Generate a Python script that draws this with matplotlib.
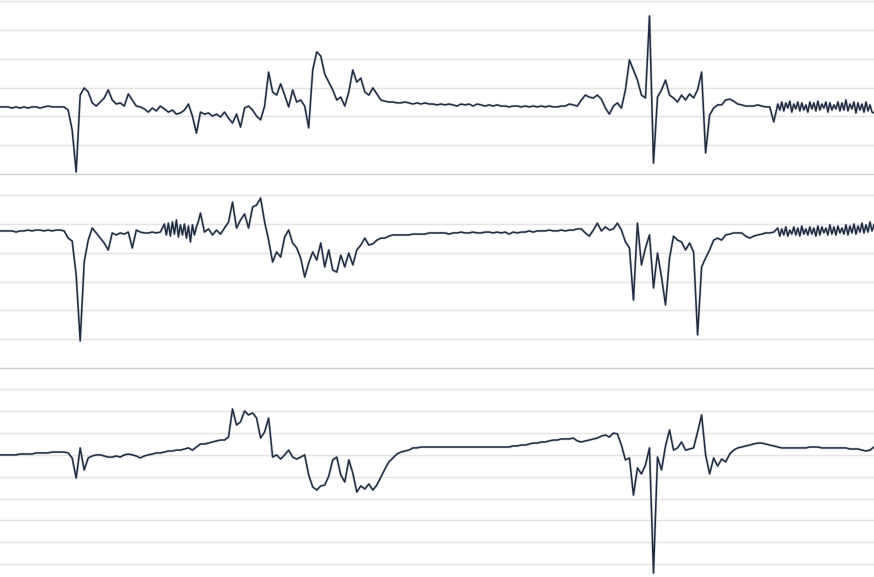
import numpy as np
import matplotlib
matplotlib.use("Agg")
import matplotlib.pyplot as plt

# Three stacked signal panels (one sample per ~4 px)
top_vals = [
    2.33, 2.33, 2.33, 2.29, 2.33, 2.29, 2.33, 2.29, 2.33, 2.33, 2.29, 2.33, 2.36, 2.33, 2.33, 2.33, 2.33,
    2.22, 1.53, 0.07, 2.74, 2.99, 2.85, 2.47, 2.36, 2.50, 2.64, 2.92, 2.57, 2.43, 2.47, 2.36,
    2.78, 2.57, 2.36, 2.33, 2.26, 2.15, 2.29, 2.19, 2.36, 2.26, 2.15, 2.22, 2.08, 2.12, 2.22,
    2.43, 2.01, 1.42, 2.15, 2.08, 2.12, 2.01, 2.08, 1.98, 2.15, 1.94, 1.77, 2.08, 1.63, 2.29,
    2.36, 2.22, 2.01, 1.88, 2.36, 3.54, 2.85, 2.74, 3.13, 2.74, 2.33, 2.92, 2.50, 2.57, 2.36,
    1.60, 3.61, 4.24, 4.10, 3.47, 3.19, 2.92, 2.57, 2.67, 2.36, 2.85, 3.61, 3.19, 3.33, 2.85,
    2.74, 2.99, 2.78, 2.57, 2.53, 2.50, 2.50, 2.47, 2.47, 2.50, 2.47, 2.43, 2.47, 2.43, 2.47,
    2.43, 2.43, 2.40, 2.43, 2.40, 2.43, 2.40, 2.36, 2.43, 2.40, 2.43, 2.36, 2.43, 2.40, 2.36,
    2.40, 2.36, 2.40, 2.36, 2.36, 2.33, 2.36, 2.36, 2.33, 2.36, 2.33, 2.36, 2.33, 2.36, 2.33,
    2.36, 2.33, 2.33, 2.36, 2.36, 2.43, 2.40, 2.36, 2.57, 2.74, 2.67, 2.64, 2.74, 2.60, 2.29,
    2.08, 2.36, 2.47, 2.29, 2.92, 3.96, 3.61, 3.26, 2.74, 2.64, 5.49, 0.38, 2.67, 2.92, 3.26,
    2.74, 2.64, 2.50, 2.74, 2.57, 2.78, 2.64, 2.92, 3.54, 0.73, 2.05, 2.29, 2.40, 2.40, 2.57,
    2.60, 2.53, 2.43, 2.40, 2.36, 2.36, 2.36, 2.40, 2.36, 2.33, 2.33, 1.81, 2.43, 2.22, 2.50,
    2.19, 2.47, 2.22, 2.50, 2.26, 2.47, 2.22, 2.50, 2.26, 2.43, 2.22, 2.47, 2.29, 2.50, 2.22,
    2.47, 2.26, 2.43, 2.19, 2.47, 2.22, 2.12,
]
# noisy stretch at the right end, read at twice the density (from sample 194)
top_band = [
    2.43, 2.22, 2.50, 2.19, 2.47, 2.29, 2.53, 2.15, 2.43, 2.26, 2.50, 2.19, 2.47, 2.22, 2.40, 2.15,
    2.50, 2.26, 2.47, 2.19, 2.53, 2.22, 2.43, 2.29, 2.50, 2.15, 2.47, 2.22, 2.40, 2.26, 2.50, 2.19,
    2.47, 2.22, 2.57, 2.19, 2.43, 2.26, 2.50, 2.12, 2.47, 2.22, 2.43, 2.15, 2.50, 2.19, 2.40, 2.15,
    2.12,
]

mid_vals = [
    4.76, 4.76, 4.76, 4.76, 4.72, 4.76, 4.76, 4.79, 4.76, 4.79, 4.79, 4.76, 4.79, 4.76, 4.79, 4.79, 4.76,
    4.51, 4.41, 3.23, 0.94, 3.68, 4.44, 4.86, 4.69, 4.51, 4.34, 4.10, 4.69, 4.62, 4.69, 4.65,
    4.72, 4.17, 4.79, 4.72, 4.69, 4.69, 4.72, 4.69, 4.72, 5.00, 4.58, 5.07, 4.65, 4.97, 4.55,
    4.93, 4.38, 4.86, 5.38, 4.72, 4.83, 4.62, 4.79, 4.65, 4.86, 5.07, 5.76, 4.86, 5.14, 5.35,
    4.86, 5.59, 5.66, 5.90, 5.07, 4.44, 3.68, 4.03, 3.85, 4.55, 4.79, 4.34, 4.17, 3.82, 3.16,
    3.65, 4.03, 3.75, 4.34, 3.51, 4.10, 3.40, 3.33, 3.92, 3.51, 3.99, 3.58, 4.10, 4.27, 4.51,
    4.27, 4.31, 4.44, 4.51, 4.51, 4.58, 4.62, 4.62, 4.62, 4.62, 4.62, 4.65, 4.65, 4.65, 4.65,
    4.69, 4.69, 4.69, 4.69, 4.69, 4.65, 4.69, 4.69, 4.72, 4.69, 4.69, 4.72, 4.69, 4.69, 4.72,
    4.72, 4.69, 4.72, 4.69, 4.72, 4.65, 4.72, 4.69, 4.72, 4.72, 4.76, 4.72, 4.76, 4.76, 4.76,
    4.79, 4.76, 4.76, 4.79, 4.76, 4.79, 4.79, 4.83, 4.83, 4.69, 4.58, 4.79, 5.03, 4.76, 4.90,
    4.79, 4.83, 5.03, 4.79, 4.38, 4.17, 2.36, 5.03, 3.58, 4.17, 4.62, 2.78, 3.99, 3.16, 2.19,
    3.82, 4.58, 4.44, 4.38, 4.10, 4.34, 4.03, 1.15, 3.51, 3.82, 4.10, 4.44, 4.51, 4.44, 4.62,
    4.65, 4.69, 4.69, 4.69, 4.58, 4.51, 4.58, 4.62, 4.65, 4.69, 4.69, 4.72, 4.86, 4.58, 4.83,
    4.62, 4.86, 4.62, 4.83, 4.65, 4.90, 4.65, 4.86, 4.69, 4.90, 4.69, 4.86, 4.65, 4.93, 4.72,
    4.90, 4.69, 4.97, 4.72, 4.93, 4.76, 4.97,
]
# denser readings of the two noisy stretches (from sample 41 and sample 194)
mid_band_left = [
    5.00, 4.62, 5.03, 4.58, 5.07, 4.65, 5.14, 4.55, 4.97, 4.62, 5.00, 4.51, 4.93, 4.38, 4.97, 4.62,
    4.90, 5.10, 5.38,
]
mid_band_right = [
    4.86, 4.58, 4.83, 4.62, 4.90, 4.58, 4.79, 4.65, 4.90, 4.62, 4.86, 4.58, 4.93, 4.65, 4.83, 4.62,
    4.90, 4.65, 4.86, 4.58, 4.93, 4.62, 4.90, 4.69, 4.86, 4.62, 4.97, 4.65, 4.90, 4.62, 4.93, 4.69,
    4.86, 4.65, 4.97, 4.62, 4.93, 4.69, 5.00, 4.65, 4.93, 4.72, 5.03, 4.69, 4.97, 4.72, 5.07, 4.76,
    4.97,
]

bottom_vals = [
    6.00, 6.00, 6.00, 6.00, 6.00, 6.04, 6.04, 6.04, 6.04, 6.09, 6.09, 6.09, 6.09, 6.13, 6.13, 6.13, 6.13,
    6.09, 5.86, 4.94, 6.32, 5.31, 5.86, 5.95, 6.00, 6.00, 5.95, 5.90, 5.90, 5.95, 5.90, 6.00,
    6.04, 6.00, 5.95, 5.86, 5.95, 6.00, 6.04, 6.09, 6.09, 6.13, 6.18, 6.18, 6.22, 6.22, 6.27,
    6.32, 6.22, 6.36, 6.50, 6.50, 6.54, 6.59, 6.64, 6.68, 6.68, 6.82, 8.10, 7.37, 7.51, 8.01,
    7.83, 7.92, 7.69, 6.77, 7.05, 7.69, 5.90, 6.00, 5.81, 6.00, 6.22, 5.90, 5.81, 5.90, 6.00,
    5.08, 4.53, 4.39, 4.58, 4.62, 5.03, 5.77, 5.90, 5.08, 4.76, 5.77, 5.17, 4.30, 4.58, 4.44,
    4.67, 4.39, 4.62, 4.99, 5.35, 5.68, 5.86, 6.04, 6.13, 6.18, 6.22, 6.32, 6.32, 6.36, 6.36,
    6.36, 6.36, 6.36, 6.36, 6.36, 6.36, 6.36, 6.36, 6.36, 6.36, 6.36, 6.36, 6.36, 6.36, 6.36,
    6.36, 6.36, 6.36, 6.36, 6.36, 6.36, 6.41, 6.41, 6.45, 6.45, 6.50, 6.54, 6.54, 6.59, 6.59,
    6.64, 6.68, 6.68, 6.73, 6.73, 6.73, 6.77, 6.64, 6.59, 6.64, 6.68, 6.73, 6.77, 6.86, 6.91,
    6.82, 7.00, 6.96, 6.45, 5.77, 5.86, 4.16, 5.40, 5.13, 5.54, 6.32, 0.59, 5.90, 5.31, 6.41,
    7.14, 6.22, 6.32, 6.59, 6.22, 6.27, 6.32, 7.05, 7.83, 6.00, 5.13, 5.86, 5.49, 5.81, 5.68,
    6.04, 6.22, 6.32, 6.36, 6.41, 6.45, 6.50, 6.54, 6.54, 6.50, 6.45, 6.41, 6.36, 6.32, 6.32,
    6.32, 6.32, 6.32, 6.32, 6.32, 6.36, 6.36, 6.36, 6.32, 6.32, 6.32, 6.32, 6.32, 6.32, 6.32,
    6.27, 6.27, 6.27, 6.22, 6.18, 6.22, 6.36,
]

line_color = "#1f2b3f"
grid_color = "#e3e3e3"
sep_color = "#cccccc"


def with_bands(vals, bands):
    # swap the coarse samples inside each band for the half-step readings
    x = np.arange(len(vals), dtype=float)
    y = np.array(vals, dtype=float)
    for start, bvals in bands:
        bx = start + 0.5 * np.arange(len(bvals))
        keep = (x < bx[0]) | (x > bx[-1])
        x = np.concatenate([x[keep], bx])
        y = np.concatenate([y[keep], bvals])
    order = np.argsort(x)
    return x[order], y[order]


fig = plt.figure(figsize=(8.74, 5.77), dpi=100)

# [left, bottom, width, height] in figure fraction, plus y range and grid lines
panels = [
    (top_vals, [(194, top_band)], [0, 0.6984, 1, 0.3016], 6.042, range(1, 7)),
    (mid_vals, [(41, mid_band_left), (194, mid_band_right)], [0, 0.3622, 1, 0.3362], 6.736, range(1, 7)),
    (bottom_vals, [], [0, -0.0156, 1, 0.3778], 9.977, range(1, 10)),
]

for vals, bands, rect, ytop, grid in panels:
    ax = fig.add_axes(rect)
    x, y = with_bands(vals, bands)
    ax.plot(x, y, color="#8f9bb0", lw=2.0, alpha=0.35)
    ax.plot(x, y, color=line_color, lw=1.1)
    ax.set_xlim(0, len(vals) - 1)
    ax.set_ylim(0, ytop)
    ax.set_yticks(list(grid))
    ax.set_xticks([])
    ax.tick_params(left=False, labelleft=False)
    ax.grid(axis="y", color=grid_color, lw=1.0)
    ax.set_axisbelow(True)
    for s in ["top", "left", "right"]:
        ax.spines[s].set_visible(False)
    ax.spines["bottom"].set_color(sep_color)
    ax.spines["bottom"].set_linewidth(1.0)
    ax.patch.set_alpha(0)

fig.savefig("out.png", dpi=100)
